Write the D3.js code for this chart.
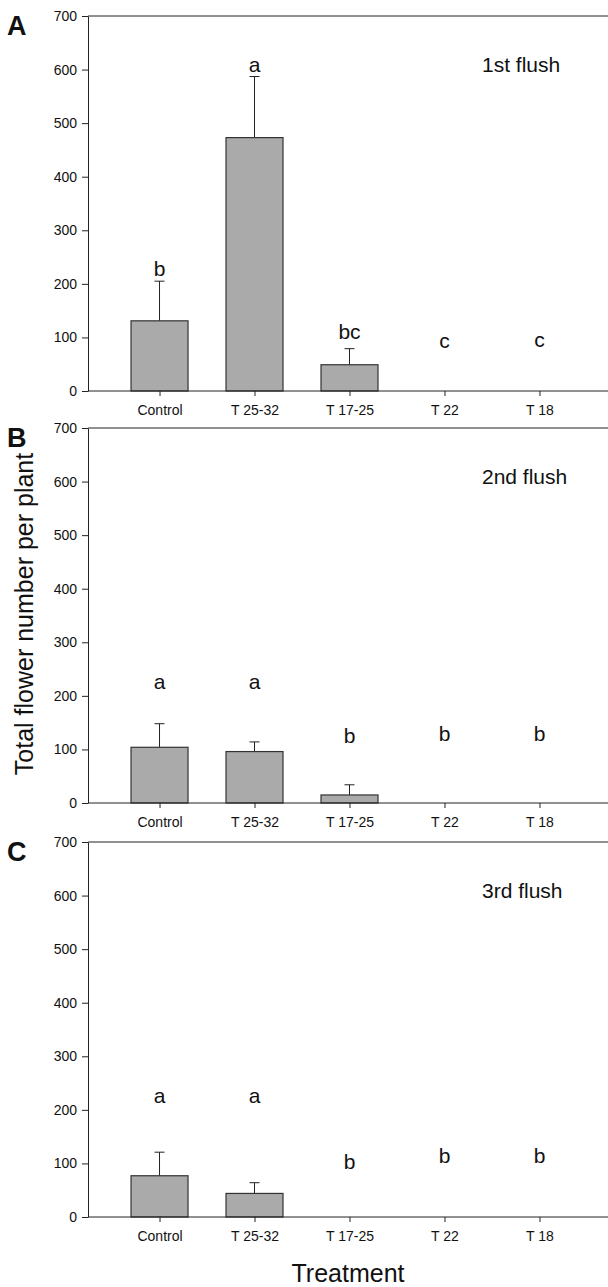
<!DOCTYPE html>
<html>
<head>
<meta charset="utf-8">
<script src="https://cdn.jsdelivr.net/npm/d3@7"></script>
<style>
  body { margin: 0; background: #fff; }
  svg { display: block; font-family: 'Liberation Sans', Arial, sans-serif; }
  .axis path, .axis line { stroke: #222; }
  .axis text { fill: #111; font-size: 14px; }
</style>
</head>
<body>
<svg id="chart" width="608" height="1287"></svg>
<script>
// treatments on x axis
const treatments = ['Control', 'T 25-32', 'T 17-25', 'T 22', 'T 18'];
const yTicks = [0, 100, 200, 300, 400, 500, 600, 700];

// means (flowers per plant) and upper error per flush
const flush1Mean = [131, 473, 49, 0, 0];
const flush1Err = [74, 114, 30, 0, 0];
const flush1Letters = ['b', 'a', 'bc', 'c', 'c'];
const flush1LetterAt = [215, 595, 98, 80, 82];

const flush2Mean = [104, 96, 15, 0, 0];
const flush2Err = [44, 18, 19, 0, 0];
const flush2Letters = ['a', 'a', 'b', 'b', 'b'];
const flush2LetterAt = [212, 212, 112, 115, 115];

const flush3Mean = [77, 44, 0, 0, 0];
const flush3Err = [44, 20, 0, 0, 0];
const flush3Letters = ['a', 'a', 'b', 'b', 'b'];
const flush3LetterAt = [212, 212, 89, 100, 100];

const panels = [
  { tag: 'A', title: '1st flush', top: 16, mean: flush1Mean, err: flush1Err, letters: flush1Letters, letterAt: flush1LetterAt },
  { tag: 'B', title: '2nd flush', top: 428, mean: flush2Mean, err: flush2Err, letters: flush2Letters, letterAt: flush2LetterAt },
  { tag: 'C', title: '3rd flush', top: 842, mean: flush3Mean, err: flush3Err, letters: flush3Letters, letterAt: flush3LetterAt }
];

const svg = d3.select('#chart');
const left = 88, right = 611, plotH = 375;
const barW = 57;

const x = d3.scalePoint()
  .domain(treatments)
  .range([left, right])
  .padding(0.753);

panels.forEach(p => {
  const g = svg.append('g').attr('transform', 'translate(0,' + p.top + ')');
  const y = d3.scaleLinear().domain([0, 700]).range([plotH, 0]);

  // frame top + right
  g.append('line')
    .attr('x1', left).attr('x2', right)
    .attr('y1', y(700)).attr('y2', y(700))
    .attr('stroke', '#222');
  g.append('line')
    .attr('x1', right).attr('x2', right)
    .attr('y1', y(700)).attr('y2', y(0))
    .attr('stroke', '#222');

  const rows = treatments.map((t, i) => ({ t, m: p.mean[i], e: p.err[i], l: p.letters[i], la: p.letterAt[i] }));

  // error bars (upper only)
  const withBar = rows.filter(d => d.m > 0);
  g.selectAll('line.err').data(withBar).enter().append('line')
    .attr('class', 'err')
    .attr('x1', d => x(d.t)).attr('x2', d => x(d.t))
    .attr('y1', d => y(d.m)).attr('y2', d => y(d.m + d.e))
    .attr('stroke', '#222');
  g.selectAll('line.cap').data(withBar).enter().append('line')
    .attr('class', 'cap')
    .attr('x1', d => x(d.t) - 5).attr('x2', d => x(d.t) + 5)
    .attr('y1', d => y(d.m + d.e)).attr('y2', d => y(d.m + d.e))
    .attr('stroke', '#222');

  g.selectAll('rect.bar').data(withBar).enter().append('rect')
    .attr('class', 'bar')
    .attr('x', d => x(d.t) - barW / 2)
    .attr('width', barW)
    .attr('y', d => y(d.m))
    .attr('height', d => y(0) - y(d.m))
    .attr('fill', '#aaaaaa')
    .attr('stroke', '#333')
    .attr('stroke-width', 1.2);

  // axes
  g.append('g').attr('class', 'axis')
    .attr('transform', 'translate(' + left + ',0)')
    .call(d3.axisLeft(y).tickValues(yTicks).tickSize(6).tickPadding(5).tickSizeOuter(0));
  g.append('g').attr('class', 'axis')
    .attr('transform', 'translate(0,' + plotH + ')')
    .call(d3.axisBottom(x).tickSize(5).tickPadding(9).tickSizeOuter(0))
    .call(a => a.select('.domain').attr('d', 'M' + left + ',0H' + right));

  // significance letters
  g.selectAll('text.sig').data(rows).enter().append('text')
    .attr('class', 'sig')
    .attr('x', d => x(d.t))
    .attr('y', d => y(d.la))
    .attr('text-anchor', 'middle')
    .attr('font-size', 21)
    .attr('fill', '#111')
    .text(d => d.l);

  g.append('text')
    .attr('x', 482).attr('y', y(595))
    .attr('font-size', 21)
    .attr('fill', '#111')
    .text(p.title);

  g.append('text')
    .attr('x', 7).attr('y', 19)
    .attr('font-size', 27)
    .attr('font-weight', 'bold')
    .attr('fill', '#111')
    .text(p.tag);
});

svg.append('text')
  .attr('transform', 'translate(33,614) rotate(-90)')
  .attr('text-anchor', 'middle')
  .attr('font-size', 25)
  .attr('fill', '#111')
  .text('Total flower number per plant');

svg.append('text')
  .attr('x', 348).attr('y', 1282)
  .attr('text-anchor', 'middle')
  .attr('font-size', 25)
  .attr('fill', '#111')
  .text('Treatment');
</script>
</body>
</html>
